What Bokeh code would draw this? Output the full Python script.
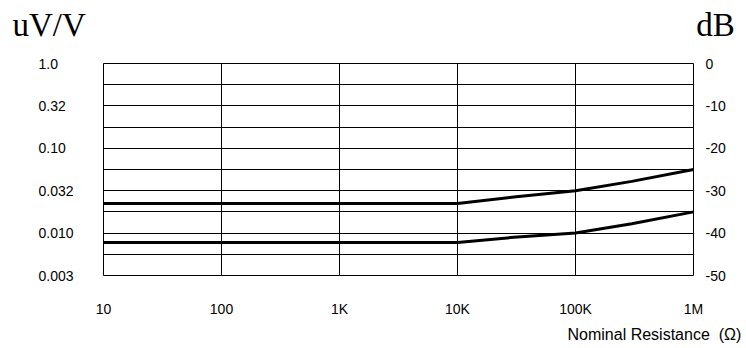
from bokeh.plotting import figure
from bokeh.models import Range1d, FixedTicker, LinearAxis, Title
from bokeh.embed import file_html
from bokeh.resources import INLINE

# ---- data ----
resistance = [10, 100, 1000, 10000, 30000, 100000, 300000, 1000000]
upper_db = [-33.0, -33.0, -33.0, -33.0, -31.5, -30.0, -27.8, -25.0]
lower_db = [-42.2, -42.2, -42.2, -42.2, -41.0, -40.0, -37.8, -35.0]

x_ticks = [10, 100, 1000, 10000, 100000, 1000000]
x_tick_labels = ["10", "100", "1K", "10K", "100K", "1M"]
db_ticks = [0, -10, -20, -30, -40, -50]
db_minor = [-5, -15, -25, -35, -45]
uvv_labels = ["1.0", "0.32", "0.10", "0.032", "0.010", "0.003"]
db_labels = ["0", "-10", "-20", "-30", "-40", "-50"]
left_unit = "uV/V"
right_unit = "dB"
x_title = "Nominal Resistance"
x_unit = "(\u03a9)"

NB = "\u00a0"

p = figure(width=746, height=348, x_axis_type="log",
           x_range=Range1d(10, 1e6), y_range=Range1d(-50, 0),
           output_backend="svg", toolbar_location=None,
           min_border_left=103, min_border_right=53,
           min_border_top=63, min_border_bottom=73)
p.background_fill_color = "white"
p.border_fill_color = "white"
p.outline_line_color = "black"
p.outline_line_width = 1

right_axis = LinearAxis()
p.add_layout(right_axis, "right")

p.xaxis.ticker = FixedTicker(ticks=x_ticks)
p.xaxis.major_label_overrides = dict(zip(x_ticks, x_tick_labels))
for ax in p.yaxis:
    ax.ticker = FixedTicker(ticks=db_ticks, minor_ticks=db_minor)
# pad so the right-aligned labels look left-aligned like the reference
widest = max(len(s) for s in uvv_labels)
def pad(s):
    return s + NB * ((widest - len(s)) * 2)
p.yaxis[0].major_label_overrides = {t: pad(s) for t, s in zip(db_ticks, uvv_labels)}
right_axis.major_label_overrides = dict(zip(db_ticks, db_labels))

for ax in list(p.xaxis) + list(p.yaxis):
    ax.axis_line_color = None
    ax.major_tick_line_color = None
    ax.minor_tick_line_color = None
    ax.major_tick_out = 0
    ax.major_tick_in = 0
    ax.minor_tick_out = 0
    ax.minor_tick_in = 0
    ax.major_label_text_font = "Liberation Sans"
    ax.major_label_text_font_size = "14px"
    ax.major_label_text_color = "black"
p.xaxis.major_label_standoff = 25
p.yaxis[0].major_label_standoff = 30
right_axis.major_label_standoff = 12

p.xgrid.grid_line_color = "black"
p.ygrid.grid_line_color = "black"
p.ygrid.minor_grid_line_color = "black"

p.line(resistance, upper_db, line_color="black", line_width=3)
p.line(resistance, lower_db, line_color="black", line_width=3)

# spacer between frame and the unit row, so the units sit higher
spacer = Title(text=NB, text_font_size="8px", standoff=9, text_color="white")
p.add_layout(spacer, "above")

# top units (one title row: left unit ... right unit)
p.title.text = left_unit + NB * 74 + right_unit
p.title.align = "left"
p.title.offset = -91
p.title.standoff = 2
p.title.vertical_align = "bottom"
p.title.text_font = "Liberation Serif"
p.title.text_font_size = "33px"
p.title.text_font_style = "normal"
p.title.text_color = "black"

xt = Title(text=x_title + NB + NB + x_unit, align="left", offset=464, standoff=8,
           text_font="Liberation Sans", text_font_size="16px",
           text_font_style="normal", text_color="black")
p.add_layout(xt, "below")

open("out.html", "w").write(file_html(p, INLINE))
